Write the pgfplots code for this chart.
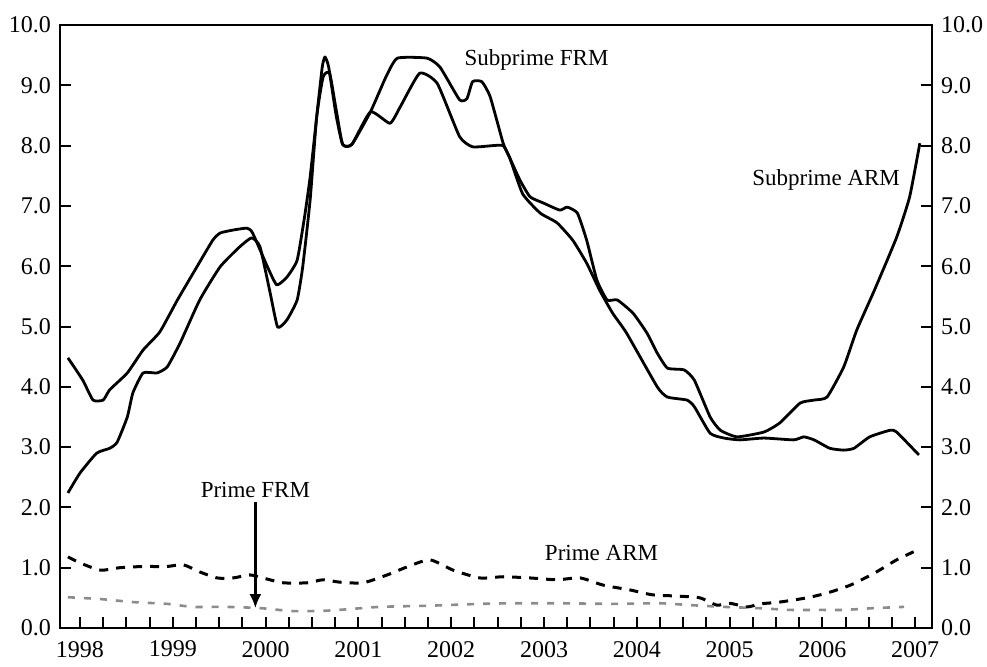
\documentclass[border=0pt]{standalone}
\usepackage{fontspec}
\setmainfont{Liberation Serif}
\usepackage{pgfplots}
\pgfplotsset{compat=1.18}
\usetikzlibrary{arrows.meta}

\newcommand{\lbl}{\fontsize{11.5}{14}\selectfont}
\pgfplotsset{
  base/.style={
    width=436pt, height=301.5pt, scale only axis,
    at={(0,0)}, anchor=south west,
    xmin=1997.7845, xmax=2007.181, ymin=0, ymax=10,
    ytick={0,1,...,10},
    tick align=inside,
    /pgf/number format/assume math mode=true,
    tick label style={font=\fontsize{12}{14}\selectfont},
    y tick label style={/pgf/number format/fixed, /pgf/number format/fixed zerofill, /pgf/number format/precision=1},
  },
}

\begin{document}
\begin{tikzpicture}
\begin{axis}[base,
  axis line style={line width=1.3pt},
  xtick={1998,1999,2000,2001,2002,2003,2004,2005,2006,2007},
  xticklabels={1998,1999,2000,2001,2002,2003,2004,2005,2006,2007},
  minor x tick num=3,
  major tick length=5.5pt, minor tick length=5.5pt,
  tick style={line width=1pt, black},
  xtick pos=bottom, ytick pos=both,
  x tick label style={yshift=-3pt},
  y tick label style={xshift=-1pt},
]
% curve starting at 4.5
\addplot[black, line width=1.4pt, line join=round, smooth, tension=0.3] coordinates {
(1997.87,4.48) (1998.03,4.11) (1998.14,3.78) (1998.25,3.78) (1998.32,3.95)
(1998.51,4.23) (1998.68,4.61) (1998.86,4.91) (1999.05,5.44) (1999.26,5.99)
(1999.43,6.43) (1999.51,6.55) (1999.65,6.60) (1999.80,6.63) (1999.86,6.55)
(2000.02,5.99) (2000.12,5.69) (2000.23,5.82) (2000.34,6.10) (2000.42,6.82)
(2000.48,7.48) (2000.55,8.47) (2000.61,9.30) (2000.64,9.47) (2000.68,9.30)
(2000.76,8.50) (2000.83,8.02) (2000.93,8.02) (2001.13,8.56) (2001.30,9.15)
(2001.42,9.45) (2001.74,9.45) (2001.88,9.30) (2002.09,8.76) (2002.17,8.78)
(2002.23,9.06) (2002.33,9.06) (2002.42,8.81) (2002.56,8.04) (2002.63,7.80)
(2002.74,7.43) (2002.85,7.15) (2002.99,7.05) (2003.17,6.93) (2003.25,6.98)
(2003.36,6.88) (2003.46,6.43) (2003.57,5.77) (2003.68,5.44) (2003.79,5.44)
(2003.96,5.22) (2004.11,4.89) (2004.22,4.56) (2004.33,4.31) (2004.51,4.28)
(2004.62,4.11) (2004.79,3.50) (2004.90,3.28) (2005.08,3.17) (2005.37,3.25)
(2005.54,3.40) (2005.76,3.73) (2005.91,3.78) (2006.05,3.83) (2006.23,4.33)
(2006.37,4.94) (2006.56,5.60) (2006.80,6.48) (2006.94,7.15) (2007.05,8.04)
};
% curve starting at 2.2
\addplot[black, line width=1.4pt, line join=round, smooth, tension=0.3] coordinates {
(1997.87,2.24) (1998.00,2.57) (1998.18,2.90) (1998.32,2.98) (1998.40,3.08)
(1998.51,3.50) (1998.57,3.90) (1998.68,4.23) (1998.83,4.23) (1998.94,4.33)
(1999.08,4.73) (1999.29,5.44) (1999.51,5.99) (1999.72,6.32) (1999.85,6.47)
(1999.94,6.32) (2000.05,5.55) (2000.13,4.99) (2000.23,5.11) (2000.34,5.44)
(2000.40,5.99) (2000.48,7.10) (2000.55,8.47) (2000.62,9.14) (2000.69,9.20)
(2000.76,8.60) (2000.83,8.02) (2000.93,8.02) (2001.13,8.56) (2001.34,8.37)
(2001.45,8.64) (2001.66,9.20) (2001.85,9.03) (2002.09,8.15) (2002.23,7.98)
(2002.45,8.00) (2002.56,8.00) (2002.63,7.80) (2002.77,7.20) (2002.96,6.88)
(2003.14,6.72) (2003.31,6.43) (2003.46,6.05) (2003.60,5.60) (2003.74,5.22)
(2003.89,4.89) (2004.22,4.00) (2004.33,3.83) (2004.54,3.78) (2004.62,3.67)
(2004.79,3.23) (2004.94,3.15) (2005.11,3.12) (2005.37,3.15) (2005.69,3.12)
(2005.80,3.17) (2005.91,3.12) (2006.08,2.98) (2006.23,2.95) (2006.34,2.98)
(2006.51,3.17) (2006.73,3.28) (2006.80,3.25) (2007.04,2.87)
};
% Prime ARM
\addplot[black, line width=1.5pt, dash pattern=on 4.5pt off 4pt, smooth, tension=0.4] coordinates {
(1997.87,1.18) (1998.00,1.08) (1998.22,0.96) (1998.43,1.00) (1998.68,1.02)
(1998.94,1.02) (1999.11,1.05) (1999.29,0.93) (1999.48,0.83) (1999.65,0.83)
(1999.83,0.88) (1999.97,0.83) (2000.19,0.75) (2000.45,0.75) (2000.62,0.80)
(2000.80,0.76) (2001.05,0.75) (2001.31,0.88) (2001.52,1.01) (2001.77,1.13)
(2002.02,0.96) (2002.31,0.83) (2002.56,0.85) (2002.85,0.83) (2003.14,0.80)
(2003.39,0.83) (2003.64,0.71) (2003.93,0.63) (2004.17,0.55) (2004.43,0.53)
(2004.68,0.50) (2004.86,0.38) (2005.00,0.41) (2005.19,0.35) (2005.33,0.40)
(2005.54,0.43) (2005.83,0.50) (2006.05,0.58) (2006.30,0.71) (2006.56,0.91)
(2006.80,1.13) (2007.02,1.29)
};
% Prime FRM
\addplot[black!45, line width=1.3pt, dash pattern=on 3.5pt off 4.5pt, smooth, tension=0.4] coordinates {
(1997.87,0.51) (1998.22,0.48) (1998.57,0.43) (1998.94,0.40) (1999.22,0.35)
(1999.58,0.35) (1999.94,0.33) (2000.30,0.28) (2000.69,0.29) (2001.23,0.35)
(2001.77,0.37) (2002.31,0.40) (2002.67,0.41) (2003.20,0.41) (2003.74,0.40)
(2004.25,0.41) (2004.57,0.38) (2004.94,0.35) (2005.30,0.33) (2005.65,0.30)
(2005.94,0.30) (2006.23,0.30) (2006.56,0.33) (2006.88,0.35)
};
\node[font=\lbl] at (axis cs:2002.92,9.42) {Subprime FRM};
\node[font=\lbl] at (axis cs:2006.04,7.43) {Subprime ARM};
\node[font=\lbl] at (axis cs:2003.62,1.24) {Prime ARM};
\node[font=\lbl] at (axis cs:1999.89,2.29) {Prime FRM};
\draw[line width=1.2pt, -{Latex[length=7pt,width=6pt]}] (axis cs:1999.89,2.09) -- (axis cs:1999.89,0.33);
\end{axis}
\begin{axis}[base,
  axis x line=none, axis y line*=right,
  axis line style={draw=none},
  major tick length=0pt,
  y tick label style={xshift=1pt},
]
\addplot[draw=none] coordinates {(2000,1)};
\end{axis}
\pgfresetboundingbox
\path[use as bounding box] (-30pt,-19pt) rectangle (463.5pt,314pt);
\end{tikzpicture}
\end{document}
